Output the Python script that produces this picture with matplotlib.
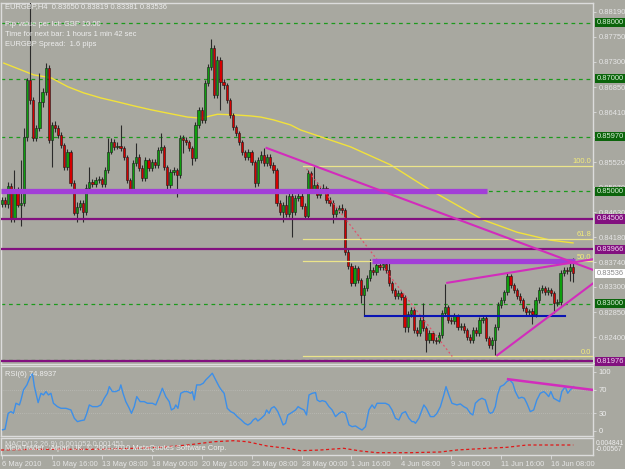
import matplotlib
matplotlib.use("Agg")
import matplotlib.pyplot as plt
import numpy as np
from matplotlib.transforms import blended_transform_factory

# ---------------- data ----------------
closes = [0.8484, 0.8477, 0.8509, 0.8451, 0.8502, 0.8476, 0.8479, 0.8597, 0.8698, 0.8662,
          0.8595, 0.8613, 0.8659, 0.8677, 0.8719, 0.8591, 0.8618, 0.8613, 0.8600, 0.8582,
          0.8543, 0.8570, 0.8515, 0.8461, 0.8472, 0.8479, 0.8463, 0.8506, 0.8517, 0.8513,
          0.8520, 0.8521, 0.8513, 0.8538, 0.8570, 0.8588, 0.8579, 0.8581, 0.8577, 0.8561,
          0.8520, 0.8502, 0.8550, 0.8561, 0.8541, 0.8524, 0.8556, 0.8541, 0.8552, 0.8547,
          0.8573, 0.8579, 0.8543, 0.8511, 0.8534, 0.8538, 0.8529, 0.8595, 0.8591, 0.8588,
          0.8577, 0.8559, 0.8618, 0.8645, 0.8627, 0.8693, 0.8721, 0.8755, 0.8671, 0.8734,
          0.8694, 0.8689, 0.8662, 0.8636, 0.8614, 0.8604, 0.8588, 0.8570, 0.8561, 0.8570,
          0.8552, 0.8515, 0.8556, 0.8565, 0.8550, 0.8561, 0.8547, 0.8538, 0.8479, 0.8463,
          0.8476, 0.8460, 0.8492, 0.8463, 0.8488, 0.8492, 0.8474, 0.8456, 0.8533, 0.8502,
          0.8511, 0.8493, 0.8502, 0.8506, 0.8484, 0.8479, 0.8460, 0.8467, 0.8470, 0.8467,
          0.8392, 0.8367, 0.8337, 0.8363, 0.8342, 0.8315, 0.8328, 0.8346, 0.8360, 0.8356,
          0.8369, 0.8365, 0.8370, 0.8360, 0.8337, 0.8324, 0.8314, 0.8319, 0.8312, 0.8258,
          0.8282, 0.8289, 0.8253, 0.8248, 0.8271, 0.8257, 0.8235, 0.8248, 0.8235, 0.8234,
          0.8244, 0.8283, 0.8294, 0.8271, 0.8269, 0.8278, 0.8258, 0.8260, 0.8253, 0.8241,
          0.8235, 0.8253, 0.8248, 0.8271, 0.8274, 0.8239, 0.8226, 0.8235, 0.8258, 0.8297,
          0.8306, 0.8320, 0.8349, 0.8333, 0.8324, 0.8314, 0.8306, 0.8292, 0.8285, 0.8286,
          0.8282, 0.8306, 0.8324, 0.8328, 0.8321, 0.8324, 0.8319, 0.8301, 0.8303, 0.8355,
          0.8360, 0.8358, 0.8365, 0.83536]
highs = [0.8490, 0.8489, 0.8516, 0.8514, 0.8537, 0.8507, 0.8556, 0.8613, 0.8702, 0.8838,
         0.8667, 0.8618, 0.8710, 0.8684, 0.8728, 0.8724, 0.8624, 0.8625, 0.8618, 0.8605,
         0.8586, 0.8575, 0.8574, 0.8520, 0.8480, 0.8485, 0.8484, 0.8512, 0.8543, 0.8522,
         0.8526, 0.8527, 0.8526, 0.8543, 0.8595, 0.8594, 0.8593, 0.8587, 0.8618, 0.8581,
         0.8565, 0.8524, 0.8555, 0.8586, 0.8566, 0.8546, 0.8561, 0.8560, 0.8557, 0.8557,
         0.8578, 0.8604, 0.8583, 0.8547, 0.8539, 0.8543, 0.8542, 0.8600, 0.8600, 0.8597,
         0.8592, 0.8581, 0.8623, 0.8650, 0.8650, 0.8698, 0.8727, 0.8771, 0.8760, 0.8740,
         0.8739, 0.8699, 0.8693, 0.8666, 0.8640, 0.8618, 0.8608, 0.8592, 0.8574, 0.8575,
         0.8574, 0.8556, 0.8561, 0.8571, 0.8577, 0.8567, 0.8566, 0.8552, 0.8542, 0.8484,
         0.8481, 0.8494, 0.8498, 0.8497, 0.8493, 0.8498, 0.8497, 0.8479, 0.8538, 0.8536,
         0.8547, 0.8516, 0.8507, 0.8512, 0.8510, 0.8489, 0.8484, 0.8472, 0.8475, 0.8478,
         0.8471, 0.8397, 0.8372, 0.8368, 0.8367, 0.8346, 0.8333, 0.8351, 0.8379, 0.8366,
         0.8374, 0.8374, 0.8377, 0.8375, 0.8374, 0.8341, 0.8328, 0.8324, 0.8323, 0.8316,
         0.8287, 0.8294, 0.8293, 0.8258, 0.8276, 0.8301, 0.8261, 0.8253, 0.8252, 0.8240,
         0.8249, 0.8288, 0.8334, 0.8298, 0.8276, 0.8283, 0.8282, 0.8266, 0.8265, 0.8257,
         0.8246, 0.8258, 0.8258, 0.8276, 0.8280, 0.8278, 0.8243, 0.8240, 0.8263, 0.8302,
         0.8311, 0.8325, 0.8356, 0.8353, 0.8337, 0.8328, 0.8318, 0.8310, 0.8296, 0.8291,
         0.8292, 0.8311, 0.8329, 0.8333, 0.8332, 0.8329, 0.8328, 0.8323, 0.8308, 0.8360,
         0.8365, 0.8366, 0.8377, 0.83819]
lows = [0.8472, 0.8472, 0.8471, 0.8445, 0.8446, 0.8472, 0.8438, 0.8474, 0.8590, 0.8655,
        0.8590, 0.8589, 0.8608, 0.8650, 0.8672, 0.8586, 0.8543, 0.8606, 0.8594, 0.8577,
        0.8538, 0.8538, 0.8510, 0.8457, 0.8445, 0.8466, 0.8445, 0.8458, 0.8500, 0.8507,
        0.8508, 0.8514, 0.8508, 0.8507, 0.8533, 0.8566, 0.8574, 0.8575, 0.8572, 0.8556,
        0.8515, 0.8497, 0.8497, 0.8545, 0.8536, 0.8519, 0.8519, 0.8536, 0.8536, 0.8542,
        0.8542, 0.8568, 0.8538, 0.8497, 0.8506, 0.8529, 0.8490, 0.8524, 0.8568, 0.8583,
        0.8572, 0.8547, 0.8554, 0.8613, 0.8622, 0.8622, 0.8688, 0.8716, 0.8666, 0.8666,
        0.8645, 0.8682, 0.8657, 0.8631, 0.8609, 0.8599, 0.8583, 0.8565, 0.8556, 0.8556,
        0.8547, 0.8508, 0.8510, 0.8551, 0.8545, 0.8545, 0.8542, 0.8533, 0.8474, 0.8458,
        0.8445, 0.8455, 0.8455, 0.8419, 0.8458, 0.8483, 0.8469, 0.8451, 0.8451, 0.8497,
        0.8497, 0.8488, 0.8488, 0.8497, 0.8479, 0.8474, 0.8443, 0.8455, 0.8462, 0.8462,
        0.8387, 0.8362, 0.8332, 0.8332, 0.8337, 0.8301, 0.8278, 0.8323, 0.8341, 0.8351,
        0.8351, 0.8360, 0.8360, 0.8355, 0.8332, 0.8319, 0.8309, 0.8309, 0.8307, 0.8250,
        0.8250, 0.8277, 0.8248, 0.8242, 0.8243, 0.8252, 0.8214, 0.8230, 0.8230, 0.8228,
        0.8229, 0.8239, 0.8278, 0.8266, 0.8263, 0.8264, 0.8253, 0.8253, 0.8248, 0.8236,
        0.8230, 0.8230, 0.8243, 0.8243, 0.8266, 0.8234, 0.8221, 0.8219, 0.8208, 0.8253,
        0.8292, 0.8301, 0.8315, 0.8328, 0.8319, 0.8309, 0.8301, 0.8287, 0.8280, 0.8278,
        0.8264, 0.8277, 0.8301, 0.8319, 0.8316, 0.8316, 0.8314, 0.8283, 0.8296, 0.8298,
        0.8350, 0.8352, 0.8340, 0.83381]
first_open = 0.8478
opens = [first_open] + closes[:-1]   # FX bars open at the previous close

ma_bar = [0.6, 6.1, 10.2, 15.7, 21.1, 26.2, 31.7, 37.1, 42.2, 47.7, 53.1, 59.5, 63.7,
          69.1, 74.2, 79.7, 82.9, 87.0, 92.5, 95.7, 111.7, 124.5, 137.3, 154.2, 165.1,
          175.7, 183.0]
ma_val = [0.8728, 0.8716, 0.8707, 0.8702, 0.8686, 0.8675, 0.8666, 0.8659, 0.8652, 0.8645,
          0.8639, 0.8632, 0.8630, 0.8637, 0.8636, 0.8634, 0.8632, 0.8627, 0.8618, 0.8609,
          0.8579, 0.8547, 0.8502, 0.8449, 0.8427, 0.8413, 0.8408]

rsi_bar = [0.2, 1.0, 2.0, 2.9, 3.7, 4.5, 5.6, 6.1, 6.9, 8.0, 9.3, 9.8, 10.4, 10.9, 11.6,
           12.5, 13.3, 14.1, 14.9, 15.7, 16.5, 17.8, 18.9, 20.5, 22.1, 23.2, 24.2, 25.3,
           26.4, 27.2, 28.0, 29.0, 30.6, 31.7, 32.8, 33.8, 34.4, 35.4, 36.5, 37.6, 38.1,
           38.8, 39.7, 40.8, 41.5, 42.4, 43.2, 44.3, 45.6, 46.6, 48.2, 49.3, 50.4, 51.4,
           52.5, 53.6, 54.3, 55.2, 55.7, 56.4, 57.3, 58.4, 59.4, 60.5, 61.0, 61.6, 62.4,
           63.5, 64.5, 65.3, 66.4, 67.4, 68.5, 69.6, 70.3, 71.2, 72.2, 73.3, 74.4, 75.4,
           76.7, 77.8, 78.8, 79.7, 80.5, 81.3, 82.0, 83.1, 84.2, 84.8, 85.6, 86.3, 87.2,
           87.7, 88.4, 89.3, 90.1, 90.9, 91.6, 92.5, 93.3, 94.1, 94.9, 95.7, 96.8, 97.6,
           98.4, 99.4, 100.5, 101.0, 101.9, 102.6, 103.7, 104.8, 105.8, 106.9, 108.0,
           109.0, 110.1, 111.2, 112.2, 113.3, 114.4, 115.4, 116.5, 117.6, 118.6, 119.4,
           120.2, 121.3, 122.9, 124.0, 125.0, 126.1, 127.2, 128.2, 129.3, 130.4, 131.4,
           132.0, 132.5, 133.6, 134.6, 135.2, 136.0, 137.3, 138.4, 139.4, 140.5, 141.6,
           142.3, 143.2, 144.2, 145.8, 146.9, 148.0, 149.0, 150.1, 150.9, 151.7, 152.8,
           153.8, 154.9, 156.0, 156.5, 157.3, 158.1, 158.8, 159.7, 160.8, 161.8, 162.7,
           163.7, 164.5, 165.6, 166.6, 167.4, 168.2, 169.3, 170.4, 171.4, 172.5, 173.6,
           174.3, 175.2, 175.9, 176.8, 177.8, 178.7, 179.4, 180.5, 181.3, 182.1, 183.2]
rsi_val = [2, 3, 29.9, 32.8, 29.9, 46.9, 44.1, 52.5, 69.5, 78.0, 94.9, 96.6, 75.1, 63.8, 48.0,
           63.8, 61.0, 66.7, 61.0, 63.8, 46.9, 41.2, 38.4, 38.4, 35.6, 21.5, 15.8, 17.5,
           18.6, 29.9, 44.1, 41.2, 41.2, 44.1, 55.4, 63.8, 75.1, 66.7, 66.7, 69.5, 78.0,
           63.8, 49.7, 38.4, 29.9, 41.2, 58.2, 49.7, 49.7, 46.9, 46.9, 44.1, 58.2, 72.3,
           58.2, 49.7, 35.6, 38.4, 44.1, 38.4, 63.8, 66.7, 66.7, 63.8, 66.7, 52.5, 78.0,
           78.0, 80.8, 86.4, 92.1, 97.7, 86.4, 75.1, 69.5, 63.8, 38.4, 32.8, 29.9, 24.3,
           18.6, 13.0, 10.2, 13.0, 18.6, 21.5, 16.9, 21.5, 27.1, 35.6, 29.9, 38.4, 41.2,
           38.4, 32.8, 21.5, 10.2, 13.0, 27.1, 29.9, 32.8, 35.6, 41.2, 38.4, 35.6, 27.1,
           61.0, 63.8, 65.0, 52.5, 49.7, 51.4, 49.7, 41.2, 35.6, 24.3, 29.9,
           32.8, 29.9, 10.2, 7.3, 8.5, 4.5, 1.7, 7.3, 35.6, 44.1, 38.4,
           46.9, 46.9, 46.9, 44.1, 35.6, 21.5, 18.6, 29.9, 32.8, 21.5, 15.8,
           15.8, 13.0, 21.5, 35.6, 44.1, 38.4, 24.3, 24.3, 29.9, 41.2, 61.0,
           75.1, 61.0, 46.9, 44.1, 45.8, 41.2, 38.4, 29.9, 27.1, 46.9, 52.5,
           55.4, 52.5, 32.8, 29.9, 31.6, 41.2, 61.0, 75.1, 78.0, 83.6, 86.4,
           80.8, 66.7, 55.4, 57.1, 55.4, 46.9, 32.8, 35.6, 52.5, 63.8, 66.7,
           63.8, 58.2, 66.7, 55.4, 52.5, 49.7, 66.7, 75.1, 63.8, 69.5, 75.1]

macd_sig_bar = [-0.3, 10.4, 21.0, 31.7, 42.3, 50.9, 59.4, 68.0, 74.3, 78.6, 85.0, 91.4,
                95.7, 102.1, 109.5, 114.9, 120.2, 130.9, 140.5, 145.8, 155.4, 161.8,
                168.2, 183.1]
macd_sig_val = [-0.00258, -0.00214, -0.00214, -0.00214, -0.00153, -0.00091, 0.00051,
                0.00255, 0.00317, 0.00255, -0.00010, -0.00153, -0.00301, -0.00258,
                -0.00153, -0.00319, -0.00424, -0.00424, -0.00381, -0.00258, -0.00153,
                -0.00091, 0.00051, 0.00051]

date_bars = [0, 16, 32, 48, 64, 80, 96, 112, 128, 144, 160, 176]
date_labels = ["6 May 2010", "10 May 16:00", "13 May 08:00", "18 May 00:00",
               "20 May 16:00", "25 May 08:00", "28 May 00:00", "1 Jun 16:00",
               "4 Jun 08:00", "9 Jun 00:00", "11 Jun 16:00", "16 Jun 08:00"]

price_ticks = [0.88190, 0.87750, 0.87300, 0.86850, 0.86410, 0.85970, 0.85520, 0.85070,
               0.84630, 0.84180, 0.83740, 0.83300, 0.82850, 0.82400, 0.81950]
green_levels = [0.88000, 0.87000, 0.85970, 0.85000, 0.83000, 0.82000]
green_boxes = [0.88000, 0.87000, 0.85970, 0.85000, 0.83000]
purple_levels = [0.84506, 0.83966, 0.81976]
current_price = 0.83536

band_levels = [0.8500, 0.8376]
band_start = [-0.3, 118.7]
band_end = [155.5, 183.7]
support_level = 0.8278
support_span = [116.5, 180.5]

fib_names = ["100.0", "61.8", "50.0", "0.0"]
fib_levels = [0.8545, 0.84155, 0.83755, 0.8206]
fib_start = 96.6
fib_diag_bar = [97.6, 144.3]
fib_diag_val = [0.8540, 0.8206]

trend_lines = [([84.8, 189.4], [0.8577, 0.8360]),
               ([142.7, 189.4], [0.8337, 0.8379]),
               ([158.7, 189.4], [0.8208, 0.8336])]
rsi_trend = ([162.2, 189.4], [87.6, 69.5])

# ---------------- style ----------------
BG = '#a8a8a0'
FRAME = '#dcdcdc'
TXT = '#eeeeee'
FS = 5.4
FONT = 'Liberation Sans'
plt.rcParams['font.family'] = [FONT, 'DejaVu Sans']

W, H = 625, 469
fig = plt.figure(figsize=(W / 100, H / 100), dpi=100, facecolor=BG)


def fx(px):
    return px / W


def fy(py):
    return 1 - py / H


XL = (-0.3, 189.4)
ax = fig.add_axes([fx(1), fy(364), fx(592), (364 - 3) / H], facecolor=BG)
rx = fig.add_axes([fx(1), fy(436), fx(592), (436 - 366) / H], facecolor=BG)
mx = fig.add_axes([fx(1), fy(455), fx(592), (455 - 438) / H], facecolor=BG)

for a in (ax, rx, mx):
    a.set_xlim(*XL)
    for s in a.spines.values():
        s.set_color(FRAME)
        s.set_linewidth(1.0)
    a.tick_params(colors=FRAME, labelcolor=TXT, labelsize=FS, length=2, width=0.6)
    a.yaxis.tick_right()
    a.set_xticks([])

ax.set_ylim(0.81925, 0.8835)

# green dashed levels
for lv in green_levels:
    ax.axhline(lv, color='#1c9a1c', lw=0.9, ls=(0, (3, 3)), zorder=1)

# moving average
ax.plot(ma_bar, ma_val, color='#f2e23a', lw=1.0, zorder=2)

# candles
o = np.array(opens)
c = np.array(closes)
hi = np.array(highs)
lo = np.array(lows)
xb = np.arange(len(c))
bull = c >= o
ax.vlines(xb, lo, hi, color='#2a2a2a', lw=0.8, zorder=3)
body_h = np.maximum(np.abs(c - o), 0.00006)
ax.bar(xb, body_h, bottom=np.minimum(o, c), width=0.72,
       color=np.where(bull, '#0e9e0e', '#d40000'), edgecolor='#1a1a1a',
       linewidth=0.4, zorder=4)

# fibonacci
for name, lv in zip(fib_names, fib_levels):
    ax.plot([fib_start, XL[1]], [lv, lv], color='#ece58a', lw=0.9, zorder=5)
    ax.text(XL[1] - 0.6, lv + 0.00012, name, color='#f4ec7a', fontsize=FS,
            ha='right', va='bottom', zorder=6)
ax.plot(fib_diag_bar, fib_diag_val, color='#e2506a', lw=0.9, ls=(0, (1.5, 2)), zorder=5)

# horizontal objects
for lv, s, e in zip(band_levels, band_start, band_end):
    ax.plot([s, e], [lv, lv], color='#a23ed8', lw=3.8, solid_capstyle='butt', zorder=6)
for lv in purple_levels:
    ax.axhline(lv, color='#82107f', lw=1.6, zorder=6)
ax.plot(support_span, [support_level, support_level], color='#0a14b4', lw=1.5, zorder=6)

# trend lines
for bx, by in trend_lines:
    ax.plot(bx, by, color='#d22cbc', lw=1.5, zorder=7)

# right axis price labels (the one fully hidden under a box keeps only its tick)
boxed = set(round(v, 5) for v in green_boxes)
ax.set_yticks(price_ticks)
ax.set_yticklabels(["" if round(v, 5) in boxed else f"{v:.5f}" for v in price_ticks])
ax.tick_params(axis='y', pad=2, colors=FRAME, labelcolor='#e6e6e6')
tr = blended_transform_factory(ax.transAxes, ax.transData)
for lv in green_boxes:
    ax.text(1.006, lv, f"{lv:.5f}", transform=tr, fontsize=FS, color='#d8f0d8',
            va='center', ha='left', zorder=10, clip_on=False,
            bbox=dict(boxstyle='square,pad=0.15', fc='#0b640b', ec='none'))
for lv in purple_levels:
    ax.text(1.006, lv, f"{lv:.5f}", transform=tr, fontsize=FS, color='#f0d8f0',
            va='center', ha='left', zorder=10, clip_on=False,
            bbox=dict(boxstyle='square,pad=0.15', fc='#82107f', ec='none'))
ax.text(1.006, current_price, f"{current_price:.5f}", transform=tr, fontsize=FS,
        color='#8a8a8a', va='center', ha='left', zorder=10, clip_on=False,
        bbox=dict(boxstyle='square,pad=0.15', fc='#ffffff', ec='none'))

# info texts
info = [("EURGBP,H4  0.83650 0.83819 0.83381 0.83536", 7),
        ("Pip value per lot: GBP 10.00", 24),
        ("Time for next bar: 1 hours 1 min 42 sec", 34.5),
        ("EURGBP Spread:  1.6 pips", 45)]
for t, py in info:
    fig.text(fx(5), fy(py), t, color=TXT, fontsize=FS, va='center', ha='left', zorder=20)

# RSI panel
rx.set_ylim(-8.5, 110)
for lv in (30, 70):
    rx.axhline(lv, color='#c4c4c0', lw=0.5, ls=(0, (1, 2)), zorder=1)
rx.plot(rsi_bar, rsi_val, color='#3d8fe8', lw=1.0, zorder=3)
rx.plot(rsi_trend[0], rsi_trend[1], color='#d22cbc', lw=1.8, zorder=4)
rx.set_yticks([100, 70, 30, 0])
rx.set_yticklabels(["100", "70", "30", "0"])
rx.tick_params(axis='y', pad=2)
fig.text(fx(5), fy(374.5), "RSI(6) 74.8937", color=TXT, fontsize=FS, va='center', ha='left')

# MACD panel
mx.set_ylim(-0.00567, 0.004841)
mx.plot(macd_sig_bar, macd_sig_val, color='#e01818', lw=0.9, ls=(0, (2.5, 2)), zorder=3)
mx.set_yticks([])
fig.text(fx(595.5), fy(443), "0.004841", color=TXT, fontsize=4.9, va='center', ha='left')
fig.text(fx(595.5), fy(449), "-0.00567", color=TXT, fontsize=4.9, va='center', ha='left')
fig.text(fx(5), fy(444.5), "MACD(12,26,9) 0.001052 0.001451", color='#dddddd',
         fontsize=FS, va='center', ha='left')
fig.text(fx(5), fy(448.5), "MetaTrader - Alpari UK, \u00a9 2001-2010 MetaQuotes Software Corp.",
         color='#eeeeee', fontsize=FS, va='center', ha='left')

mx.set_xticks(date_bars)
mx.set_xticklabels(date_labels)
mx.tick_params(axis='x', length=3, pad=1.5, colors=FRAME, labelcolor='#e6e6e6')
for lab in mx.get_xticklabels():
    lab.set_horizontalalignment('left')

fig.savefig("out.png", dpi=100, facecolor=BG)
